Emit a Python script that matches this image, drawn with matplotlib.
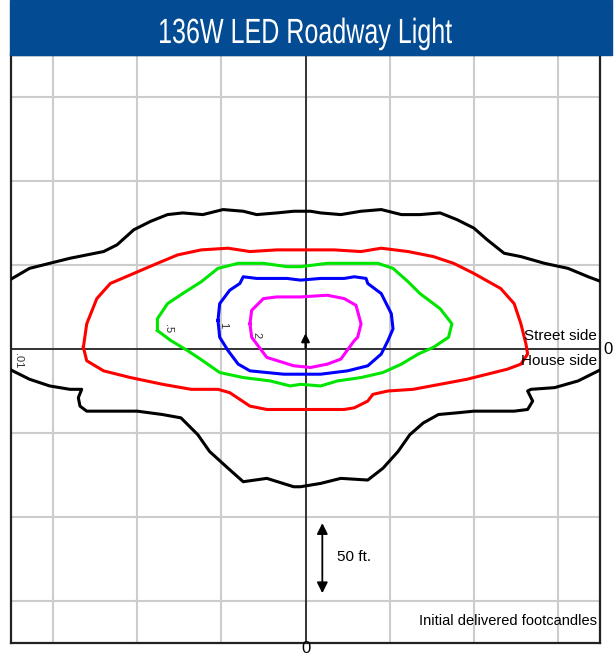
import matplotlib.pyplot as plt
from matplotlib.patches import Rectangle, PathPatch
from matplotlib.textpath import TextPath
from matplotlib.font_manager import FontProperties
from matplotlib.transforms import Affine2D

# isofootcandle contours, traced in feet (x: along road, y: street(+)/house(-))
black_x = [-190, -176, -164, -152, -140, -130, -120, -112, -102, -92, -82, -73, -61, -49, -37, -29, -17, -7, 3,
           9, 21, 33, 45, 57, 68, 80, 90, 100, 108, 118, 128, 142, 156, 168, 176, 190,
           190, 176, 162, 148, 134, 132, 135, 132, 124, 112, 100, 90, 79, 70, 62, 55, 46, 37, 21, 9, -3,
           -7, -23, -37, -46, -57, -64, -74, -85, -100, -116, -130, -134, -135, -133, -140, -152, -164, -176, -190,
           -190]
black_y = [36, 41, 48, 51, 54, 56, 58, 62, 71, 76, 80, 81, 80, 83, 82, 80, 81, 82, 82,
           81, 80, 82, 83, 80, 80, 81, 77, 72, 65, 57, 55, 51, 48, 43, 40, 36,
           -14, -12, -19, -23, -24, -25, -31, -36, -37, -37, -37, -38, -39, -44, -51, -61, -71, -78, -77, -80, -82,
           -82, -77, -79, -71, -61, -51, -41, -39, -37, -37, -37, -34, -29, -24, -24, -22, -18, -12, -8,
           36]

red_x = [-132, -130, -124, -116, -102, -88, -76, -62, -46, -33, -17, -3, 17, 33, 45, 61, 76, 88, 100, 116,
         124, 128, 131, 132, 128, 120, 108, 96, 80, 64, 49, 40, 37, 29, 23, 9, -9, -23, -33, -39, -45, -52,
         -68, -85, -104, -120, -130, -132]
red_y = [1, 15, 30, 39, 45, 51, 56, 59, 60, 58, 59, 59, 59, 58, 60, 58, 55, 51, 45, 36,
         27, 15, 3, -3, -9, -12, -15, -18, -21, -24, -25, -27, -31, -35, -36, -36, -36, -36, -34, -30, -26, -24,
         -24, -21, -17, -13, -7, 1]

green_x = [-88, -88, -82, -73, -62, -52, -40, -25, -11, -3, 13, 29, 43, 52, 61, 68, 80, 87, 85, 76, 67, 57,
           46, 33, 19, 9, -3, -9, -21, -37, -51, -61, -70, -80, -88]
green_y = [11, 18, 27, 33, 40, 48, 51, 51, 49, 49, 51, 51, 51, 48, 40, 33, 24, 15, 7, 1, -3, -9,
           -14, -17, -19, -22, -21, -22, -19, -17, -14, -7, -1, 5, 11]

blue_x = [-52, -51, -45, -39, -37, -29, -21, -11, -3, 9, 23, 29, 36, 37, 45, 51, 52, 49, 45, 37, 25, 9, -3,
          -13, -33, -40, -46, -51, -52]
blue_y = [17, 27, 35, 39, 43, 42, 42, 42, 41, 42, 42, 43, 42, 39, 33, 21, 12, 5, -3, -10, -13, -15, -15,
          -15, -13, -9, -1, 7, 17]

magenta_x = [-33, -32, -25, -17, -3, 13, 23, 30, 33, 31, 29, 21, 13, 3, -7, -23, -29, -32, -33]
magenta_y = [15, 23, 30, 31, 31, 32, 30, 26, 15, 7, 5, -6, -9, -11, -10, -5, 3, 7, 15]

contour_labels = ['.01', '.5', '1', '2']
label_x = [-171, -82, -49, -29]
label_y = [-7, 12, 14, 8]

grid_ticks = [-150, -100, -50, 50, 100, 150]
LIM = 175
FONT = ['Liberation Sans', 'DejaVu Sans']
TITLE = '136W LED Roadway Light'

fig = plt.figure(figsize=(6.16, 6.56), dpi=100)

# blue title bar
fig.patches.append(Rectangle((10 / 616, 1 - 55 / 656), 602 / 616, 55 / 656,
                             transform=fig.transFigure, color='#034b93', zorder=0))

# condensed title: text path squeezed horizontally (no condensed font installed)
tp = TextPath((0, 0), TITLE, size=35, prop=FontProperties(family='Liberation Sans'))
ext = tp.get_extents()
sx = 292 / ext.width
title_tf = Affine2D().translate(-ext.x0, 0).scale(sx, 1.0).translate(160, 656 - 43)
fig.patches.append(PathPatch(tp, transform=title_tf, facecolor='white', edgecolor='none',
                             lw=0, zorder=1))

ax = fig.add_axes([11 / 616, 13 / 656, 589 / 616, 588 / 656])
ax.set_xlim(-LIM, LIM)
ax.set_ylim(-LIM, LIM)
ax.set_xticks([])
ax.set_yticks([])
for s in ax.spines.values():
    s.set_linewidth(1.6)
    s.set_color('#222222')

for t in grid_ticks:
    ax.axvline(t, color='#cccccc', lw=1.5, zorder=1)
    ax.axhline(t, color='#cccccc', lw=1.5, zorder=1)
ax.axvline(0, color='#333333', lw=1.4, zorder=2)
ax.axhline(0, color='#333333', lw=1.4, zorder=2)

ax.plot(black_x, black_y, color='black', lw=2.2, zorder=3)
ax.plot(red_x, red_y, color='#ff0000', lw=2.2, zorder=3)
ax.plot(green_x, green_y, color='#00e600', lw=2.2, zorder=3)
ax.plot(blue_x, blue_y, color='#0000ff', lw=2.2, zorder=3)
ax.plot(magenta_x, magenta_y, color='#ff00ff', lw=2.2, zorder=3)

for lab, lx, ly in zip(contour_labels, label_x, label_y):
    ax.text(lx, ly, lab, rotation=270, ha='center', va='center', fontsize=8,
            color='#333333', family=FONT, zorder=4)

# luminaire arrow at origin
ax.annotate('', xy=(0, 11), xytext=(0, -1),
            arrowprops=dict(arrowstyle='-|>', color='black', lw=1.5, mutation_scale=12), zorder=5)

# 50 ft scale arrow
ax.annotate('', xy=(10, -102), xytext=(10, -147),
            arrowprops=dict(arrowstyle='<|-|>', color='black', lw=1.3, mutation_scale=16))
ax.text(19, -124, '50 ft.', ha='left', va='center', fontsize=11, family=FONT)

ax.text(173, 8, 'Street side', ha='right', va='center', fontsize=11, family=FONT, zorder=4)
ax.text(173, -7, 'House side', ha='right', va='center', fontsize=11, family=FONT, zorder=4)
ax.text(173, -162, 'Initial delivered footcandles', ha='right', va='center',
        fontsize=10.5, family=FONT)

ax.text(180, 0, '0', ha='center', va='center', fontsize=12, family=FONT, clip_on=False)
ax.text(0, -178, '0', ha='center', va='center', fontsize=12, family=FONT, clip_on=False)

fig.savefig('out.png', dpi=100)
